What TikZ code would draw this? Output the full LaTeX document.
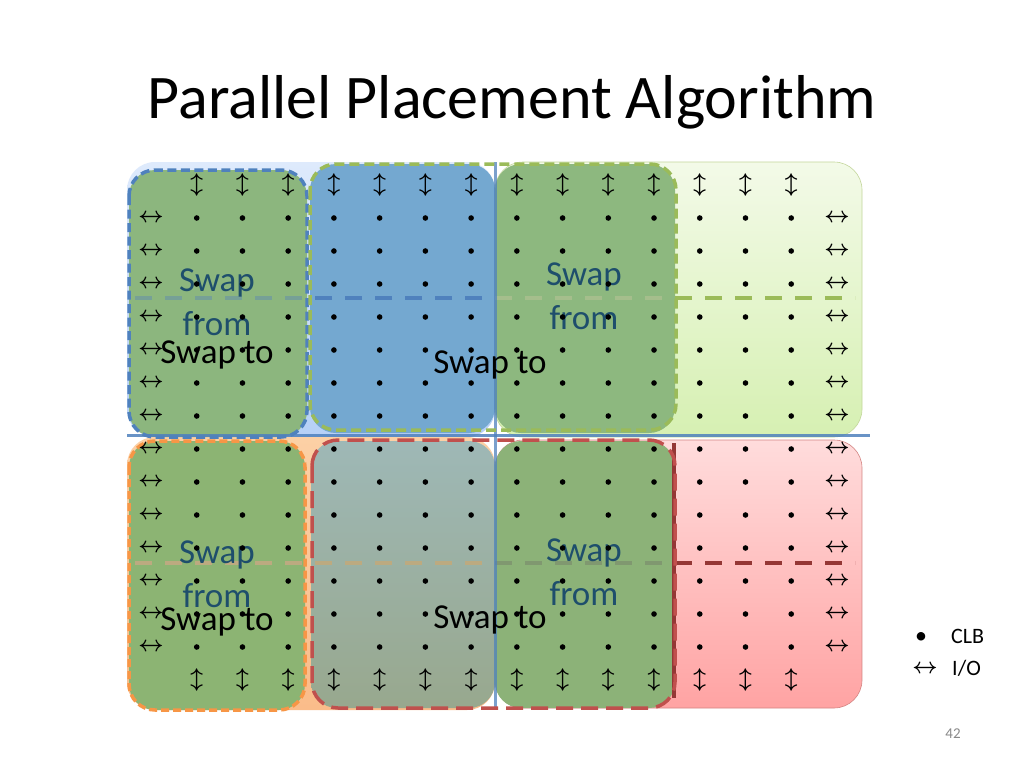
\RequirePackage{fix-cm}
\documentclass[tikz,border=0pt]{standalone}
\usepackage{fontspec}
\setmainfont{Carlito}
\newcommand\myfs[2]{\fontsize{#1}{#2}\selectfont}
\definecolor{qtlT}{RGB}{222,234,252}
\definecolor{qtlB}{RGB}{182,208,247}
\definecolor{qtrT}{RGB}{243,250,232}
\definecolor{qtrB}{RGB}{214,240,178}
\definecolor{qblT}{RGB}{252,208,165}
\definecolor{qblB}{RGB}{250,188,138}
\definecolor{qbrT}{RGB}{255,220,220}
\definecolor{qbrB}{RGB}{255,163,163}
\definecolor{bxA}{RGB}{140,182,126}
\definecolor{bxB}{RGB}{116,168,208}
\definecolor{bxC}{RGB}{141,184,127}
\definecolor{bxD}{RGB}{140,180,115}
\definecolor{bxET}{RGB}{158,184,182}
\definecolor{bxEB}{RGB}{152,168,142}
\definecolor{bxF}{RGB}{140,178,120}
\definecolor{olBlue}{RGB}{79,129,189}
\definecolor{olGreen}{RGB}{155,187,89}
\definecolor{olOrange}{RGB}{247,150,70}
\definecolor{olRed}{RGB}{192,80,77}
\definecolor{dkRed}{RGB}{149,55,53}
\definecolor{fadeBlue}{RGB}{118,160,150}
\definecolor{fadeGreen}{RGB}{165,190,140}
\definecolor{tanL}{RGB}{188,170,128}
\definecolor{fadeF}{RGB}{128,152,112}
\definecolor{swapblue}{RGB}{30,78,108}
\definecolor{pgnum}{RGB}{137,137,137}
\begin{document}
\begin{tikzpicture}[x=1pt,y=-1pt,
  quad/.style={rounded corners=28pt},
  box/.style={rounded corners=26pt},
  clb/.style={circle,fill=black,inner sep=0pt,minimum size=5.6pt},
  io/.style={inner sep=0pt,font=\myfs{22}{22}\boldmath},
  hdash/.style={line width=4.5pt,dash pattern=on 17pt off 13pt},
  outA/.style={draw=olBlue,line width=3.5pt,dash pattern=on 9pt off 4.5pt},
  outBC/.style={draw=olGreen,line width=3.5pt,dash pattern=on 10pt off 5pt},
  outD/.style={draw=olOrange,line width=3.5pt,dash pattern=on 8pt off 4pt},
  outEF/.style={draw=olRed,line width=3.5pt,dash pattern=on 17pt off 8pt},
  swapto/.style={font=\myfs{35}{35},anchor=base,text=black,inner sep=0pt},
  swapfrom/.style={font=\myfs{35}{44},anchor=base,align=center,text=swapblue,inner sep=0pt},
  lbl/.style={font=\myfs{22}{22},anchor=base west,inner sep=0pt},
]
\useasboundingbox (0,0) rectangle (1024,768);
\fill[white] (0,0) rectangle (1024,768);
% title
\node[font=\myfs{62}{62},anchor=base,inner sep=0pt] (title) at (512,118) {Parallel Placement Algorithm};
% quadrants
\path[quad,top color=qtlT,bottom color=qtlB] (127,162) rectangle (495,437);
\path[quad,top color=qtrT,bottom color=qtrB,draw=olGreen!60,line width=0.6pt] (495,162) rectangle (862,437);
\path[quad,top color=qblT,bottom color=qblB] (127,437) rectangle (495,710);
\path[quad,top color=qbrT,bottom color=qbrB,draw=olRed!70,line width=0.6pt] (495,440) rectangle (862,708);
% boxes
\fill[box,bxA] (129,170) rectangle (307,437);
\fill[box,bxB] (310,164) rectangle (495,433);
\fill[box,bxC] (495,164) rectangle (675,433);
\fill[box,bxD] (129,441) rectangle (305,710);
\path[box,top color=bxET,bottom color=bxEB] (311,441) rectangle (495,708);
\fill[box,bxF] (495,441) rectangle (675,708);
% horizontal dashed lines
\draw[hdash,fadeBlue] (135,298) -- (315,298);
\draw[hdash,olBlue] (315,298) -- (495,298);
\draw[hdash,fadeGreen] (495,298) -- (675,298);
\draw[hdash,olGreen] (675,298) -- (855,298);
\draw[hdash,tanL] (135,563) -- (495,563);
\draw[hdash,fadeF] (495,563) -- (675,563);
\draw[hdash,dkRed] (675,563) -- (855,563);
% separators
\draw[olBlue,line width=3pt,opacity=0.85] (127,435) -- (870,435);
\draw[olBlue,line width=3pt,opacity=0.75] (495,162) -- (495,710);
\draw[dkRed,line width=3.5pt] (674,443) -- (674,698);
% dashed outlines
\draw[box,outA] (129,170) rectangle (307,437);
\draw[box,outBC] (310,164) rectangle (676,430);
\draw[box,outD] (129,441) rectangle (305,710);
\draw[box,outEF] (312,440) rectangle (675,708);
% texts
\node[swapfrom] (sf1) at (217,335) {Swap\\from};
\node[swapfrom] (sf2) at (584,329) {Swap\\from};
\node[swapfrom] (sf3) at (217,607) {Swap\\from};
\node[swapfrom] (sf4) at (584,605) {Swap\\from};
\node[swapto] (st1) at (217,363) {Swap to};
\node[swapto] (st2) at (490,373) {Swap to};
\node[swapto] (st3) at (217,630) {Swap to};
\node[swapto] (st4) at (490,628) {Swap to};
% grid
\foreach \j in {1,...,14}{
  \pgfmathsetmacro\yy{185+33*\j}
  \node[io] (l\j) at (151,\yy) {$\leftrightarrow$};
  \node[io] (r\j) at (837,\yy) {$\leftrightarrow$};
  \foreach \i in {1,...,14}{
    \pgfmathsetmacro\xx{151+45.73*\i}
    \node[clb] (c\i-\j) at (\xx,\yy) {};
  }
}
\foreach \i in {1,...,14}{
  \pgfmathsetmacro\xx{151+45.73*\i}
  \node[io] (t\i) at (\xx,185) {$\updownarrow$};
  \node[io] (b\i) at (\xx,680) {$\updownarrow$};
}
% legend
\node[font=\myfs{24}{24},anchor=base,inner sep=0pt] (lgb) at (921,643) {•};
\node[lbl] (lgc) at (951,643) {CLB};
\node[io] (lga) at (925,669) {$\leftrightarrow$};
\node[lbl] (lgi) at (952,675) {I/O};
\node[font=\myfs{15}{15},text=pgnum,anchor=base,inner sep=0pt] (pg) at (953,738) {42};
\end{tikzpicture}
\end{document}
